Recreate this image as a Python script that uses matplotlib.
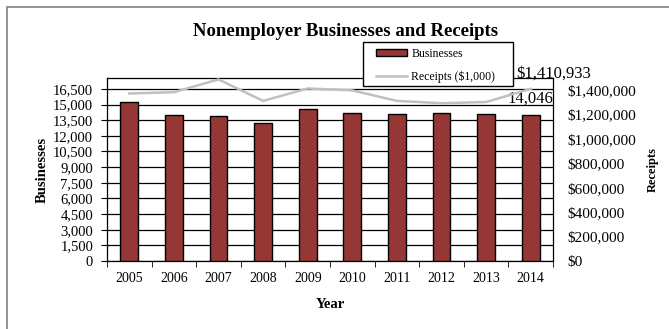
import numpy as np
import matplotlib
matplotlib.use('Agg')
import matplotlib.pyplot as plt
from matplotlib.patches import Rectangle

years = ['2005', '2006', '2007', '2008', '2009', '2010', '2011', '2012', '2013', '2014']
businesses = [15220, 14010, 13940, 13270, 14550, 14230, 14130, 14230, 14130, 14046]
receipts = [1372800, 1383500, 1488000, 1312000, 1414000, 1398000, 1312000, 1293000, 1303000, 1410933]

left_ticks = list(range(0, 16501, 1500))
right_ticks = list(range(0, 1400001, 200000))

plt.rcParams['font.family'] = ['Liberation Serif', 'DejaVu Serif']

fig = plt.figure(figsize=(6.69, 3.29), dpi=100)
# outer chart border (only left/top edges visible in the crop)
fig.patches.append(Rectangle((7 / 669, -0.1), 1.2, 1 - 7 / 329 + 0.1, transform=fig.transFigure,
                             fill=False, edgecolor='#808080', linewidth=1.2, zorder=0))

ax = fig.add_axes([0.160, 0.2067, 0.6667, 0.5563])
x = np.arange(len(years))

ax.bar(x, businesses, width=0.4, color='#953735', edgecolor='black', linewidth=1.0,
       label='Businesses', zorder=3)
ax.set_xlim(-0.5, len(years) - 0.5)
ax.set_ylim(0, 17550)
ax.set_yticks(left_ticks)
ax.set_yticklabels([f"{v:,}" for v in left_ticks], fontsize=10.5)
ax.set_xticks(x)
ax.set_xticklabels(years, fontsize=10)
ax.set_xticks(np.arange(-0.5, len(years)), minor=True)
ax.tick_params(axis='x', which='major', length=0, pad=8)
ax.tick_params(axis='x', which='minor', length=4, direction='out')
ax.tick_params(axis='y', length=4, direction='out', pad=6)
ax.yaxis.grid(True, color='black', linewidth=0.9, zorder=0)
ax.set_axisbelow(True)
for s in ax.spines.values():
    s.set_color('black')
    s.set_linewidth(0.9)
ax.set_ylabel('Businesses', fontsize=10.5, fontweight='bold', labelpad=3)
ax.set_xlabel('Year', fontsize=10.5, fontweight='bold', labelpad=9)

ax.text(x[-1], businesses[-1] + 800, f"{businesses[-1]:,}", ha='center', va='bottom',
        fontsize=12, zorder=5)

ax2 = ax.twinx()
ax2.plot(x, receipts, color='#c0c0c0', linewidth=1.8, label='Receipts ($1,000)', zorder=4)
ax2.set_ylim(0, 1500000)
ax2.set_yticks(right_ticks)
ax2.set_yticklabels([f"${v:,}" for v in right_ticks], fontsize=11)
ax2.tick_params(axis='y', length=0, pad=10)
ax2.set_ylabel('Receipts', fontsize=9, fontweight='bold', labelpad=8)
for s in ax2.spines.values():
    s.set_visible(False)

ax2.annotate(f"${receipts[-1]:,}", xy=(x[-1], receipts[-1]), xytext=(23, 15),
             textcoords='offset pixels', ha='center', va='center', fontsize=12,
             annotation_clip=False)

fig.text(0.516, 0.905, 'Nonemployer Businesses and Receipts', ha='center', va='center',
         fontsize=13.5, fontweight='bold')

# legend box drawn separately so its padding matches
fig.patches.append(Rectangle((363 / 669, 1 - 86 / 329), 150 / 669, 44 / 329,
                             transform=fig.transFigure, facecolor='white',
                             edgecolor='black', linewidth=1.0, zorder=9))
h1, l1 = ax.get_legend_handles_labels()
h2, l2 = ax2.get_legend_handles_labels()
leg = fig.legend(h1 + h2, l1 + l2, loc='upper left', bbox_to_anchor=(376 / 669, 1 - 48 / 329),
                 fontsize=8.5, frameon=False, borderpad=0, borderaxespad=0,
                 labelspacing=0.9, handlelength=2.6, handleheight=0.5, handletextpad=0.4)
leg.set_zorder(10)

fig.savefig('out.png', dpi=100)
